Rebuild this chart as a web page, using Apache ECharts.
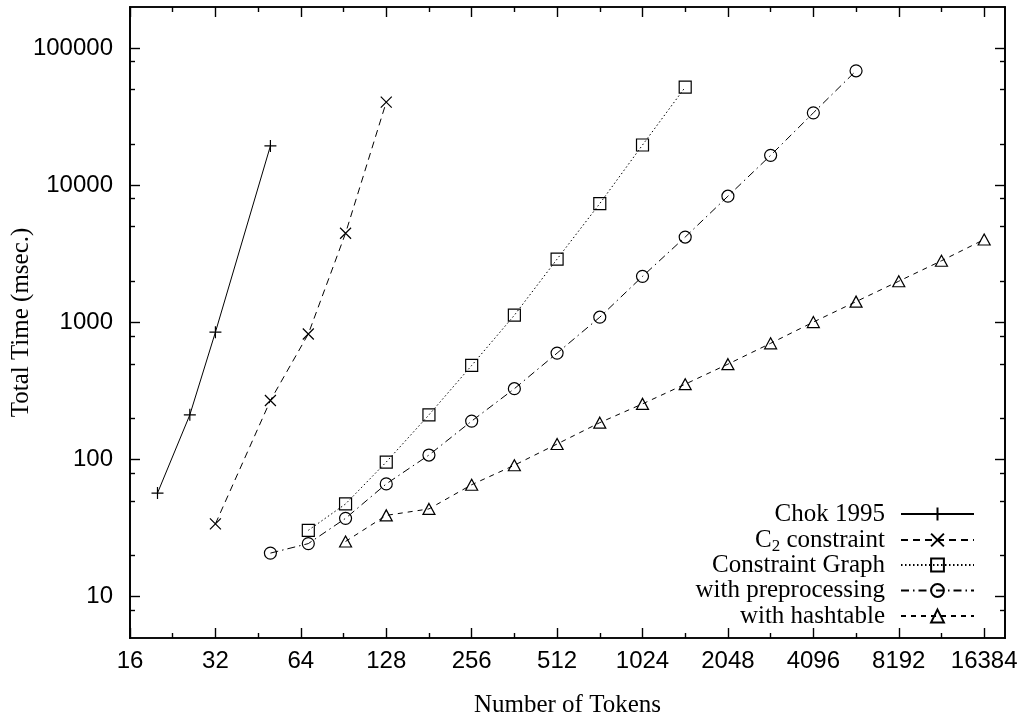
<!DOCTYPE html>
<html><head><meta charset="utf-8">
<script src="https://cdn.jsdelivr.net/npm/echarts@6/dist/echarts.min.js"></script>
<style>html,body{margin:0;padding:0;background:#fff}#c{width:1024px;height:720px}</style>
</head><body><div id="c"></div>
<script>
// ---- data ----
const seriesNames = ['Chok 1995', 'C2 constraint', 'Constraint Graph', 'with preprocessing', 'with hashtable'];

const chokX = [20, 26, 32, 50];
const chokY = [57, 212, 850, 19400];

const c2X = [32, 50, 68, 92, 128];
const c2Y = [34, 270, 825, 4480, 40500];

const cgX = [68, 92, 128, 181, 256, 362, 512, 724, 1024, 1448];
const cgY = [30.5, 47.5, 96, 212, 486, 1130, 2900, 7370, 19700, 52000];

const prepX = [50, 68, 92, 128, 181, 256, 362, 512, 724, 1024, 1448, 2048, 2896, 4096, 5793];
const prepY = [20.8, 24.4, 37.3, 66.5, 108, 191, 329, 598, 1093, 2170, 4200, 8340, 16560, 33800, 68500];

const hashX = [92, 128, 181, 256, 362, 512, 724, 1024, 1448, 2048, 2896, 4096, 5793, 8192, 11585, 16384];
const hashY = [25.3, 39.2, 43.7, 65.6, 91, 130, 186, 255, 355, 497, 705, 1007, 1420, 2000, 2820, 4030];

const xMajorTicks = [16, 32, 64, 128, 256, 512, 1024, 2048, 4096, 8192, 16384];
const xMinorTicks = [22.63, 45.25, 90.51, 181.02, 362.04, 724.08, 1448.15, 2896.31, 5792.62, 11585.24];
const yMajorTicks = [10, 100, 1000, 10000, 100000];
const yMinorTicks = [8, 20, 50, 80, 200, 500, 800, 2000, 5000, 8000, 20000, 50000, 80000];

const xTitle = 'Number of Tokens';
const yTitle = 'Total Time (msec.)';

// ---- chart ----
const X_MIN = 16, X_MAX = 19400, Y_MIN = 5, Y_MAX = 200000;
const pairs = (xs, ys) => xs.map((x, i) => [x, ys[i]]);

function xAxis(pos, ticks, len, withLabels) {
  return {
    type: 'log', logBase: 2, min: X_MIN, max: X_MAX, position: pos,
    axisLine: { show: true, onZero: false, lineStyle: { color: '#000', width: 1.7 } },
    axisTick: { show: true, inside: true, length: len, customValues: ticks, lineStyle: { color: '#000', width: 1.4 } },
    axisLabel: withLabels ? {
      show: true, customValues: ticks, margin: 11, color: '#000',
      fontFamily: 'Liberation Sans', fontSize: 24,
      formatter: v => String(Math.round(v))
    } : { show: false },
    splitLine: { show: false }, minorTick: { show: false },
    name: withLabels ? xTitle : '', nameLocation: 'middle', nameGap: 55, nameMoveOverlap: false,
    nameTextStyle: { fontFamily: 'Liberation Serif', fontSize: 25, color: '#000' }
  };
}
function yAxis(pos, ticks, len, withLabels) {
  return {
    type: 'log', logBase: 10, min: Y_MIN, max: Y_MAX, position: pos,
    axisLine: { show: true, onZero: false, lineStyle: { color: '#000', width: 1.7 } },
    axisTick: { show: true, inside: true, length: len, customValues: ticks, lineStyle: { color: '#000', width: 1.4 } },
    axisLabel: withLabels ? {
      show: true, customValues: ticks, margin: 17, color: '#000',
      fontFamily: 'Liberation Sans', fontSize: 24,
      formatter: v => String(Math.round(v))
    } : { show: false },
    splitLine: { show: false }, minorTick: { show: false },
    name: withLabels ? yTitle : '', nameLocation: 'middle', nameGap: 96, nameRotate: 90, nameMoveOverlap: false,
    nameTextStyle: { fontFamily: 'Liberation Serif', fontSize: 25, color: '#000' }
  };
}

const markers = [
  { symbol: 'path://M0,5H10M5,0V10', size: 12, dash: 'solid' },
  { symbol: 'path://M0,0L10,10M10,0L0,10', size: 11, dash: [7, 5] },
  { symbol: 'rect', size: 12, dash: [1.5, 2.5] },
  { symbol: 'circle', size: 12, dash: [8, 4, 1.5, 4] },
  { symbol: 'triangle', size: [12, 11], dash: [5, 5] }
];
const dataSets = [pairs(chokX, chokY), pairs(c2X, c2Y), pairs(cgX, cgY), pairs(prepX, prepY), pairs(hashX, hashY)];

const series = seriesNames.map((name, i) => ({
  type: 'line', name, data: dataSets[i], xAxisIndex: 0, yAxisIndex: 0,
  symbol: markers[i].symbol, symbolSize: markers[i].size, showSymbol: true,
  lineStyle: { color: '#000', width: 1, type: markers[i].dash },
  itemStyle: { color: 'transparent', borderColor: '#000', borderWidth: 1.2 },
  emphasis: { disabled: true }, clip: false, animation: false
}));

const legendCenters = [513, 538.5, 564, 589.5, 615];
const LEG_H = 16;
const legends = seriesNames.map((name, i) => ({
  data: [name], orient: 'vertical', align: 'right', right: 49, top: legendCenters[i] - 11.5,
  itemWidth: 73, itemHeight: LEG_H, itemGap: 0, padding: 0, selectedMode: false,
  formatter: n => n === 'C2 constraint' ? '{a|C}{s|2}{a| constraint}' : '{a|' + n + '}',
  textStyle: {
    color: '#000', fontFamily: 'Liberation Serif', fontSize: 25, padding: [0, 11, 0, 0],
    rich: {
      a: { fontFamily: 'Liberation Serif', fontSize: 25, lineHeight: 26, color: '#000' },
      s: { fontFamily: 'Liberation Serif', fontSize: 17, lineHeight: 17, color: '#000', verticalAlign: 'top', padding: [11, 0, 0, 0] }
    }
  }
}));

const chart = echarts.init(document.getElementById('c'), null, { renderer: 'canvas' });
chart.setOption({
  animation: false,
  backgroundColor: '#fff',
  grid: { left: 130, right: 19, top: 7, bottom: 82, outerBoundsMode: 'none' },
  xAxis: [
    xAxis('bottom', xMajorTicks, 10, true),
    xAxis('bottom', xMinorTicks, 5, false),
    xAxis('top', xMajorTicks, 10, false),
    xAxis('top', xMinorTicks, 5, false)
  ],
  yAxis: [
    yAxis('left', yMajorTicks, 10, true),
    yAxis('left', yMinorTicks, 5, false),
    yAxis('right', yMajorTicks, 10, false),
    yAxis('right', yMinorTicks, 5, false)
  ],
  legend: legends,
  series
});
</script></body></html>
